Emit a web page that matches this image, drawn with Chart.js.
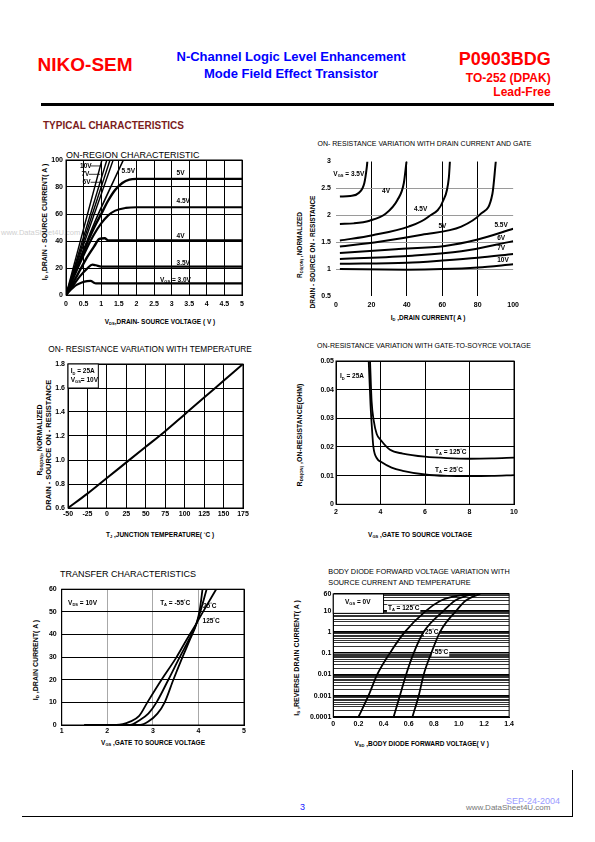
<!DOCTYPE html>
<html>
<head>
<meta charset="utf-8">
<script src="https://cdn.jsdelivr.net/npm/chart.js@4.4.1/dist/chart.umd.min.js"></script>
<style>
  body { margin: 0; background: #fff; }
  #page { position: relative; width: 595px; height: 842px; overflow: hidden; background: #fff;
          font-family: "Liberation Sans", Arial, Helvetica, sans-serif; color: #000; }
  .t { position: absolute; white-space: nowrap; line-height: 1; }
  canvas { position: absolute; }
  sub { font-size: 62%; vertical-align: -0.3em; line-height: 0; }
  sup { font-size: 62%; vertical-align: 0.45em; line-height: 0; }
</style>
</head>
<body>
<div id="page"></div>
<script>
// ---- data: on-region characteristic (Vds, Id) ----
const vgs3v  = [[0,0],[0.1,3],[0.2,5.5],[0.3,7.5],[0.45,9.3],[0.6,10.3],[0.7,10.5],[0.78,9.3],[0.85,8.6],[5,8.6]];
const vgs35v = [[0,0],[0.2,7],[0.4,14],[0.6,19.5],[0.75,22.5],[0.85,22],[1,21],[5,21]];
const vgs4v  = [[0,0],[0.2,9],[0.4,18.5],[0.6,28],[0.8,36],[0.95,41.5],[1.1,42],[1.2,40.5],[5,40.5]];
const vgs45v = [[0,0],[0.3,18],[0.6,35],[0.8,45],[1.0,53],[1.2,59],[1.4,62.5],[1.7,64.5],[2.0,65],[5,65]];
const vgs5v  = [[0,0],[0.4,26],[0.8,50],[1.0,60],[1.2,70],[1.4,78],[1.6,83],[1.8,85.5],[2.0,86],[5,86]];
const vgs55v = [[0,0],[0.4,27],[0.8,53],[1.2,76],[1.63,100]];
const vgs6v  = [[0,0],[1.34,100]];
const vgs7v  = [[0,0],[1.25,100]];
const vgs8v  = [[0,0],[1.16,100]];
const vgs10v = [[0,0],[1.02,100]];

// ---- data: on-resistance vs drain current (Id, normalized) ----
const rId35 = [[2.2,2.35],[8,2.36],[13,2.42],[16,2.6],[17.4,2.9],[17.7,3]];
const rId4  = [[2.2,1.84],[10,1.85],[19,1.9],[28,2.03],[34.6,2.28],[38.3,2.6],[39.8,3]];
const rId45 = [[2.2,1.53],[20.7,1.63],[41,1.79],[52,1.97],[60.6,2.28],[63.7,2.7],[64.3,3]];
const rId5  = [[2.2,1.42],[24.4,1.51],[48.5,1.64],[70.7,1.79],[81.8,2.03],[88.3,2.4],[90.2,3]];
const rId55 = [[2.2,1.3],[33.7,1.37],[61.5,1.43],[80,1.55],[100,1.75]];
const rId6  = [[2.2,1.19],[43,1.25],[70.7,1.33],[100,1.52]];
const rId7  = [[2.2,1.1],[40,1.12],[60,1.16],[80,1.21],[100,1.28]];
const rId10 = [[2.2,1.0],[40,0.99],[60,1.0],[80,1.03],[100,1.09]];

// ---- data: on-resistance vs temperature ----
const tempC   = [-50,-25,0,25,50,75,100,125,150,175];
const rdsTemp = [0.6,0.72,0.85,0.98,1.11,1.24,1.38,1.52,1.66,1.8];

// ---- data: on-resistance vs Vgs (ohm) ----
const rVgs125 = [[3.53,0.05],[3.6,0.036],[3.7,0.029],[3.83,0.0245],[4,0.0225],[4.43,0.019],[5,0.0177],[6,0.0166],[7,0.0161],[8,0.0159],[9,0.016],[10,0.0163]];
const rVgs25  = [[3.47,0.05],[3.55,0.035],[3.62,0.026],[3.68,0.02],[3.86,0.0158],[4,0.0149],[4.5,0.0128],[5,0.0117],[6,0.0104],[7,0.0099],[8,0.0098],[9,0.0099],[10,0.0102]];

// ---- data: transfer characteristics (Vgs, Id) ----
const tr125 = [[1.5,0],[2.2,0],[2.5,1.5],[2.7,4],[2.88,10],[3.19,20],[3.52,30],[3.75,38],[3.96,45],[4.1,50],[4.39,60]];
const tr25  = [[1.5,0],[2.5,0],[2.7,2],[2.9,5],[3.08,10],[3.34,20],[3.59,30],[3.8,38],[3.96,45],[4.07,52],[4.18,60]];
const trM55 = [[1.5,0],[2.72,0],[2.9,1.5],[3.1,5],[3.26,10],[3.45,20],[3.65,30],[3.82,38],[3.96,45],[4.03,51],[4.09,60]];

// ---- data: body diode (Vsd, Is) ----
const bd125 = [[0.2,0.0001],[0.28,0.001],[0.35,0.01],[0.45,0.1],[0.57,1],[0.74,10],[0.85,28],[0.95,45],[1.09,60]];
const bd25  = [[0.48,0.0001],[0.53,0.001],[0.58,0.01],[0.64,0.1],[0.72,1],[0.88,10],[0.97,30],[1.05,47],[1.13,60]];
const bdM55 = [[0.63,0.0001],[0.68,0.001],[0.72,0.01],[0.78,0.1],[0.85,1],[0.98,10],[1.05,28],[1.11,45],[1.17,60]];
const bdTickLabels = [0.0001,0.001,0.01,0.1,1,10,60];

const FONT = "'Liberation Sans', Arial, Helvetica, sans-serif";
const page = document.getElementById('page');

function txt(x, y, html, size, o = {}) {
  const d = document.createElement('div');
  d.className = 't';
  d.innerHTML = html;
  d.style.left = x + 'px';
  d.style.top = y + 'px';
  d.style.fontSize = size + 'px';
  d.style.fontWeight = o.bold ? 'bold' : 'normal';
  if (o.color) d.style.color = o.color;
  const tx = o.align === 'center' ? '-50%' : o.align === 'right' ? '-100%' : '0';
  d.style.transform = o.rot ? 'translate(-50%,-50%) rotate(-90deg)' : `translate(${tx},-50%)`;
  page.appendChild(d);
}

function rule(x, y, w, h) {
  const d = document.createElement('div');
  d.style.cssText = `position:absolute;left:${x}px;top:${y}px;width:${w}px;height:${h}px;background:#000`;
  page.appendChild(d);
}

// rich text on canvas: _{sub} and ^{sup}
function richParts(s) {
  return s.split(/(_\{[^}]*\}|\^\{[^}]*\})/).filter(Boolean).map(p => {
    if (p.startsWith('_{')) return { t: p.slice(2, -1), k: 'sub' };
    if (p.startsWith('^{')) return { t: p.slice(2, -1), k: 'sup' };
    return { t: p, k: '' };
  });
}
function drawRich(ctx, x, y, s, size, bg) {
  const parts = richParts(s);
  const fontOf = k => `bold ${k ? size * 0.62 : size}px ${FONT}`;
  let w = 0;
  parts.forEach(p => { ctx.font = fontOf(p.k); p.w = ctx.measureText(p.t).width; w += p.w; });
  if (bg) { ctx.fillStyle = '#fff'; ctx.fillRect(x - 1, y - size * 0.6, w + 2, size * 1.2); }
  ctx.fillStyle = '#000';
  ctx.textBaseline = 'middle';
  ctx.textAlign = 'left';
  let cx = x;
  parts.forEach(p => {
    ctx.font = fontOf(p.k);
    const dy = p.k === 'sub' ? size * 0.3 : p.k === 'sup' ? -size * 0.35 : 0;
    ctx.fillText(p.t, cx, y + dy);
    cx += p.w;
  });
}

const framePlugin = {
  id: 'frame',
  beforeDatasetsDraw(chart, args, opts) {
    if (!opts.on) return;
    const a = chart.chartArea, ctx = chart.ctx;
    ctx.save();
    ctx.strokeStyle = '#000';
    ctx.lineWidth = 1;
    ctx.strokeRect(a.left, a.top, a.right - a.left, a.bottom - a.top);
    ctx.restore();
  }
};

const notesPlugin = {
  id: 'notes',
  beforeDatasetsDraw(chart, args, opts) {
    const { ctx, scales: { x, y } } = chart;
    ctx.save();
    (opts.boxes || []).forEach(b => {
      const x0 = x.getPixelForValue(b.x0), x1 = x.getPixelForValue(b.x1);
      const y0 = y.getPixelForValue(b.y0), y1 = y.getPixelForValue(b.y1);
      ctx.fillStyle = '#fff';
      ctx.strokeStyle = '#000';
      ctx.lineWidth = 1;
      ctx.fillRect(Math.min(x0, x1), Math.min(y0, y1), Math.abs(x1 - x0), Math.abs(y1 - y0));
      ctx.strokeRect(Math.min(x0, x1), Math.min(y0, y1), Math.abs(x1 - x0), Math.abs(y1 - y0));
    });
    (opts.leaders || []).forEach(l => {
      ctx.strokeStyle = '#000';
      ctx.lineWidth = 0.8;
      ctx.beginPath();
      ctx.moveTo(x.getPixelForValue(l[0]), y.getPixelForValue(l[1]));
      ctx.lineTo(x.getPixelForValue(l[2]), y.getPixelForValue(l[3]));
      ctx.stroke();
    });
    (opts.items || []).forEach(n => {
      drawRich(ctx, x.getPixelForValue(n.x), y.getPixelForValue(n.y), n.t, opts.size || 6.5, n.bg);
    });
    ctx.restore();
  }
};

function ds(points, w) {
  return {
    data: points.map(p => ({ x: p[0], y: p[1] })),
    borderColor: '#000',
    borderWidth: w || 1.8,
    pointRadius: 0,
    fill: false,
    cubicInterpolationMode: 'monotone'
  };
}

function lin(min, max, step, o = {}) {
  return {
    type: o.type || 'linear',
    min, max,
    afterBuildTicks: o.ticks,
    ticks: {
      stepSize: step, autoSkip: false, maxRotation: 0, padding: o.pad || 3, color: '#000',
      font: { family: FONT, size: 7, weight: 'bold' },
      callback: o.fmt || (v => String(+(+v).toFixed(3)))
    },
    grid: { display: o.grid !== false, color: o.color || '#000', lineWidth: o.lw || 1, drawTicks: false },
    border: { display: o.border !== false, color: '#000', width: 1 }
  };
}

function build(box, area, xs, ys, datasets, notes, frame) {
  const cv = document.createElement('canvas');
  cv.width = box.w; cv.height = box.h;
  cv.style.left = box.x + 'px'; cv.style.top = box.y + 'px';
  cv.style.width = box.w + 'px'; cv.style.height = box.h + 'px';
  page.appendChild(cv);
  xs.afterFit = s => { s.height = box.y + box.h - area.B; };
  ys.afterFit = s => { s.width = area.L - box.x; };
  new Chart(cv, {
    type: 'line',
    data: { datasets },
    options: {
      responsive: false,
      animation: false,
      events: [],
      layout: { padding: { left: 0, bottom: 0, top: area.T - box.y, right: box.x + box.w - area.R } },
      scales: { x: xs, y: ys },
      plugins: { legend: { display: false }, tooltip: { enabled: false }, notes, frame: { on: frame } }
    },
    plugins: [framePlugin, notesPlugin]
  });
}

// ---------- header ----------
txt(37.6, 63.5, 'NIKO-SEM', 19, { bold: true, color: '#f00' });
txt(291, 56, 'N-Channel Logic Level Enhancement', 13, { bold: true, color: '#00f', align: 'center' });
txt(291, 72.5, 'Mode Field Effect Transistor', 13, { bold: true, color: '#00f', align: 'center' });
txt(550.7, 59.4, 'P0903BDG', 18, { bold: true, color: '#f00', align: 'right' });
txt(550.7, 77.7, 'TO-252 (DPAK)', 12, { bold: true, color: '#f00', align: 'right' });
txt(550.7, 91.5, 'Lead-Free', 12, { bold: true, color: '#f00', align: 'right' });
rule(41.4, 103, 512.6, 2.5);
txt(43, 126, 'TYPICAL CHARACTERISTICS', 10, { bold: true, color: '#7b1c1c' });
txt(1, 233, 'www.DataSheet4U.com', 7.5, { color: '#cfcfcf' });

// ---------- chart 1: on-region characteristic ----------
txt(66, 155, 'ON-REGION CHARACTERISTIC', 9);
txt(44, 222, 'I<sub>D</sub> ,DRAIN - SOURCE CURRENT( A )', 7, { bold: true, rot: true });
txt(160, 321.7, 'V<sub>DS</sub>,DRAIN- SOURCE VOLTAGE ( V )', 6.5, { bold: true, align: 'center' });
build({ x: 40, y: 150, w: 210, h: 165 }, { L: 66, R: 242, T: 160, B: 295 },
  lin(0, 5, 0.5, { pad: 5 }), lin(0, 100, 20, { pad: 3 }),
  [ds(vgs3v, 2.2), ds(vgs35v, 2.2), ds(vgs4v, 2.4), ds(vgs45v, 2.2), ds(vgs5v, 2.4),
   ds(vgs55v, 1.6), ds(vgs6v, 1.4), ds(vgs7v, 1.4), ds(vgs8v, 1.4), ds(vgs10v, 1.4)],
  { items: [
      { x: 0.4, y: 95.6, t: '10V' }, { x: 0.44, y: 89.4, t: '7V' }, { x: 0.47, y: 83.5, t: '6V' },
      { x: 1.58, y: 92, t: '5.5V' }, { x: 3.14, y: 90, t: '5V' }, { x: 3.14, y: 69.6, t: '4.5V' },
      { x: 3.14, y: 43.2, t: '4V' }, { x: 3.14, y: 23.5, t: '3.5V' }, { x: 2.67, y: 11.1, t: 'V_{GS} = 3.0V' }],
    leaders: [[0.7, 95.6, 0.97, 95.6], [0.65, 89.4, 0.97, 89.4], [0.7, 83.5, 1.05, 83.5]] },
  true);

// ---------- chart 2: on-resistance vs drain current ----------
txt(424.5, 143, 'ON- RESISTANCE VARIATION WITH DRAIN CURRENT AND GATE', 7, { align: 'center' });
txt(300, 245, 'R<sub>DS(ON)</sub> ,NORMALIZED', 6.5, { bold: true, rot: true });
txt(313, 252, 'DRAIN - SOURCE ON - RESISTANCE', 6.5, { bold: true, rot: true });
txt(428, 318, 'I<sub>D</sub> ,DRAIN CURRENT( A )', 6.5, { bold: true, align: 'center' });
{
  const xs = lin(0, 100, 20, { pad: 5, border: false });
  xs.grid.color = c => (c.tick.value > 0 && c.tick.value < 100) ? '#000' : 'rgba(0,0,0,0)';
  const ys = lin(0.5, 3, 0.5, { pad: 5, border: false });
  ys.grid.color = c => (c.tick.value > 0.5 && c.tick.value < 3) ? '#9a9a9a' : 'rgba(0,0,0,0)';
  build({ x: 318, y: 150, w: 206, h: 165 }, { L: 336, R: 516, T: 161.5, B: 296 }, xs, ys,
    [ds(rId35, 2), ds(rId4, 2), ds(rId45, 2), ds(rId5, 2), ds(rId55, 2), ds(rId6, 2), ds(rId7, 2), ds(rId10, 2)],
    { items: [
        { x: -1.5, y: 2.77, t: 'V_{GS} = 3.5V' }, { x: 26, y: 2.44, t: '4V' }, { x: 44, y: 2.12, t: '4.5V' },
        { x: 57.8, y: 1.79, t: '5V' }, { x: 89.4, y: 1.81, t: '5.5V' }, { x: 91, y: 1.58, t: '6V' },
        { x: 91, y: 1.38, t: '7V' }, { x: 91, y: 1.16, t: '10V' }] },
    false);
}

// ---------- chart 3: on-resistance vs temperature ----------
txt(150, 349, 'ON- RESISTANCE VARIATION WITH TEMPERATURE', 8.3, { align: 'center' });
txt(39, 440, 'R<sub>DS(ON)</sub>, NORMALIZED', 7, { bold: true, rot: true });
txt(48.5, 445, 'DRAIN - SOURCE ON - RESISTANCE', 7.5, { bold: true, rot: true });
txt(160, 535, 'T<sub>J</sub> ,JUNCTION TEMPERATURE( <sup>°</sup>C )', 6.5, { bold: true, align: 'center' });
build({ x: 50, y: 355, w: 203, h: 165 }, { L: 68, R: 243, T: 364, B: 508 },
  lin(-50, 175, 25, { pad: 2 }), lin(0.6, 1.8, 0.2, { pad: 3, fmt: v => (+v).toFixed(1) }),
  [ds(tempC.map((t, i) => [t, rdsTemp[i]]), 2)],
  { boxes: [{ x0: -50, x1: -11, y0: 1.6, y1: 1.8 }],
    items: [{ x: -46.5, y: 1.736, t: 'I_{D} = 25A' }, { x: -46.5, y: 1.667, t: 'V_{GS}= 10V' }] },
  true);

// ---------- chart 4: on-resistance vs gate-source voltage ----------
txt(424, 345, 'ON-RESISTANCE VARIATION WITH GATE-TO-SOYRCE VOLTAGE', 7, { align: 'center' });
txt(299, 435, 'R<sub>DS(ON)</sub> ,ON-RESISTANCE(OHM)', 7, { bold: true, rot: true });
txt(420, 535, 'V<sub>GS</sub> ,GATE TO SOURCE VOLTAGE', 6.5, { bold: true, align: 'center' });
build({ x: 314, y: 352, w: 208, h: 170 }, { L: 336, R: 514, T: 361, B: 504.3 },
  lin(2, 10, 2, { pad: 4 }), lin(0, 0.05, 0.01, { pad: 2, fmt: v => v === 0 ? '0' : (+v).toFixed(2) }),
  [ds(rVgs125, 1.8), ds(rVgs25, 1.8)],
  { items: [{ x: 2.18, y: 0.0446, t: 'I_{D} = 25A' }, { x: 6.45, y: 0.0182, t: 'T_{A} = 125^{°}C' },
            { x: 6.45, y: 0.012, t: 'T_{A} = 25^{°}C' }] },
  true);

// ---------- chart 5: transfer characteristics ----------
txt(60, 574.3, 'TRANSFER CHARACTERISTICS', 9);
txt(35, 660, 'I<sub>D</sub> ,DRAIN CURRENT( A )', 7, { bold: true, rot: true });
txt(153, 743.3, 'V<sub>GS</sub> ,GATE TO SOURCE VOLTAGE', 6.5, { bold: true, align: 'center' });
{
  const xs = lin(1, 5, 1, { pad: 2 });
  xs.grid.color = c => (c.tick.value === 1 || c.tick.value === 5) ? '#000' : '#a8a8a8';
  build({ x: 44, y: 580, w: 208, h: 160 }, { L: 61.7, R: 244, T: 587.7, B: 725 },
    xs, lin(0, 60, 10, { pad: 5 }),
    [ds(tr125, 1.8), ds(tr25, 1.8), ds(trM55, 1.8)],
    { items: [{ x: 1.14, y: 53.8, t: 'V_{DS} = 10V' }, { x: 3.16, y: 53.8, t: 'T_{A} = -55^{°}C' },
              { x: 4.1, y: 52.4, t: '25^{°}C' }, { x: 4.09, y: 45.9, t: '125^{°}C' }] },
    true);
}

// ---------- chart 6: body diode forward voltage ----------
txt(328.3, 571.7, 'BODY DIODE FORWARD VOLTAGE VARIATION WITH', 7.3);
txt(328.3, 582.7, 'SOURCE CURRENT AND TEMPERATURE', 7.3);
txt(296, 658, 'I<sub>S</sub> ,REVERSE DRAIN CURRENT( A )', 7, { bold: true, rot: true });
txt(421.7, 744, 'V<sub>SD</sub> ,BODY DIODE FORWARD VOLTAGE( V )', 6.5, { bold: true, align: 'center' });
{
  const minor = [];
  for (let k = -4; k <= 1; k++) for (let m = 1; m <= 9; m++) {
    const v = parseFloat(m + 'e' + k);
    if (v <= 60) minor.push(v);
  }
  const xs = lin(0, 1.4, 0.2, { pad: 3, grid: false, fmt: v => v === 0 ? '0' : (+v).toFixed(1) });
  const ys = lin(0.0001, 60, null, {
    type: 'logarithmic', pad: 2,
    ticks: s => { s.ticks = minor.map(v => ({ value: v })); },
    fmt: v => bdTickLabels.includes(v) ? String(v) : ''
  });
  ys.grid.lineWidth = c => bdTickLabels.includes(c.tick.value) ? 1.5 : 0.8;
  build({ x: 305, y: 585, w: 212, h: 145 }, { L: 333.3, R: 509.3, T: 594, B: 717 },
    xs, ys, [ds(bd125, 1.8), ds(bd25, 1.8), ds(bdM55, 1.8)],
    { boxes: [{ x0: 0, x1: 0.4, y0: 7.4, y1: 60 }],
      items: [{ x: 0.093, y: 26, t: 'V_{GS} = 0V' }, { x: 0.435, y: 12.8, t: 'T_{A} = 125^{°}C', bg: true },
              { x: 0.73, y: 0.95, t: '25^{°}C', bg: true }, { x: 0.79, y: 0.105, t: '-55^{°}C', bg: true }] },
    true);
}

// ---------- footer ----------
txt(300, 807, '3', 9, { color: '#2020ff' });
txt(506, 801, 'SEP-24-2004', 9, { color: '#9a9aff' });
txt(466, 808, 'www.DataSheet4U.com', 8, { color: '#777' });
rule(22, 815.5, 551, 1.5);
rule(571.5, 770, 1.5, 47);
</script>
</body>
</html>
